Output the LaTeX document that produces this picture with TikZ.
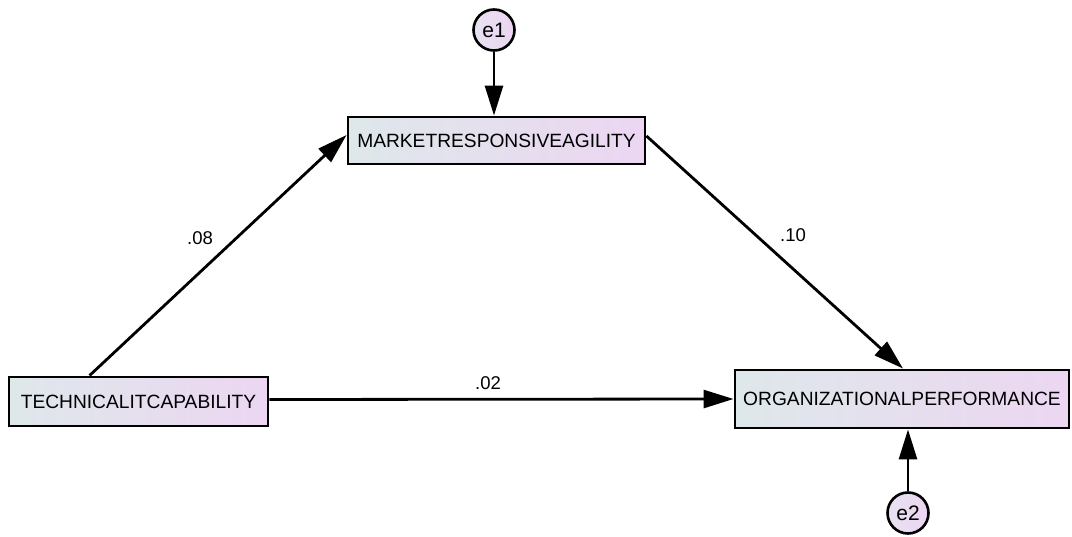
\documentclass[tikz,border=0pt]{standalone}
\usepackage{fontspec}
\setmainfont{Liberation Sans}
\usetikzlibrary{arrows.meta,calc}
\definecolor{boxleft}{RGB}{222,232,234}
\definecolor{boxright}{RGB}{236,214,242}
\definecolor{errleft}{RGB}{232,226,240}
\definecolor{errright}{RGB}{236,212,242}
\begin{document}
\begin{tikzpicture}[x=1pt,y=-1pt,
  varbox/.style={draw=black,line width=2.9pt,rectangle,inner sep=0pt,
    left color=boxleft,right color=boxright,
    font=\fontsize{19.2}{19}\selectfont},
  errcircle/.style={draw=black,line width=2.6pt,circle,inner sep=0pt,
    minimum size=41pt,left color=errleft,right color=errright,
    font=\fontsize{21}{21}\selectfont},
  path/.style={line width=2.8pt,-{Triangle[length=30pt,width=18pt]}},
  coef/.style={font=\fontsize{18.5}{18}\selectfont,inner sep=0pt}]
\useasboundingbox (0,0) rectangle (1072,537);

% observed variables
\node[varbox,minimum width=297pt,minimum height=47pt] (mra) at (496.5,140.5) {MARKETRESPONSIVEAGILITY};
\node[varbox,minimum width=259pt,minimum height=49pt] (tech) at (138.5,401.5) {TECHNICALITCAPABILITY};
\node[varbox,minimum width=334pt,minimum height=58pt] (org) at (902,399) {ORGANIZATIONALPERFORMANCE};

% error terms
\node[errcircle] (e1) at (494,30) {e1};
\node[errcircle] (e2) at (908,513) {e2};

% structural paths
\draw[path] ([xshift=82pt]tech.north west) -- ([yshift=5.5pt]mra.west);
\draw[path] ([yshift=4.5pt]mra.east) -- ([xshift=1pt]org.north);
\draw[path] ([yshift=2pt]tech.east) -- (org.west);
\draw[path] (e1) -- (mra.north -| e1);
\draw[path] (e2) -- (org.south -| e2);

% path coefficients
\node[coef] (c1) at (200,238) {.08};
\node[coef] (c2) at (793,235) {.10};
\node[coef] (c3) at (488,383) {.02};
\end{tikzpicture}
\end{document}
